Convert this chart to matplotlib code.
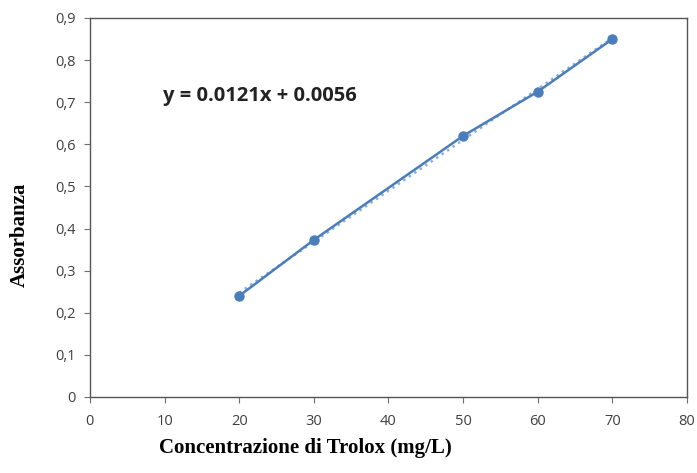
import numpy as np
import matplotlib.pyplot as plt

# Trolox calibration data
conc = [20, 30, 50, 60, 70]
absorb = [0.24, 0.373, 0.62, 0.725, 0.85]
slope = 0.0121
intercept = 0.0056
x_ticks = [0, 10, 20, 30, 40, 50, 60, 70, 80]
y_ticks = [0, 0.1, 0.2, 0.3, 0.4, 0.5, 0.6, 0.7, 0.8, 0.9]
y_tick_labels = ["0", "0,1", "0,2", "0,3", "0,4", "0,5", "0,6", "0,7", "0,8", "0,9"]

blue = "#4a7ebb"

fig = plt.figure(figsize=(6.97, 4.73), dpi=100)
ax = fig.add_axes([0.129, 0.1607, 0.8567, 0.8013])

# linear trendline, dotted
fit_x = np.array([conc[0], conc[-1]])
ax.plot(fit_x, slope * fit_x + intercept, linestyle=":", color="#8fb0da", linewidth=1.8)
ax.plot(conc, absorb, color=blue, linewidth=1.8, marker="o", markersize=6.5)

ax.set_xlim(0, 80)
ax.set_ylim(0, 0.9)
ax.set_xticks(x_ticks)
ax.set_yticks(y_ticks)
ax.set_yticklabels(y_tick_labels)
ax.tick_params(direction="out", length=4, color="#6e6e6e", labelcolor="#404040",
               labelsize=10.5)
ax.tick_params(axis="x", pad=8)
ax.tick_params(axis="y", pad=6)
for label in ax.get_xticklabels() + ax.get_yticklabels():
    label.set_family("Open Sans")
for side in ax.spines.values():
    side.set_color("#555555")
    side.set_linewidth(1.0)

ax.text(163 / 697, 1 - 96 / 473, "y = 0.0121x + 0.0056", transform=fig.transFigure,
        fontsize=14.5, fontweight="bold", family="Open Sans", color="#222222",
        va="center")

fig.text(305 / 697, 1 - 448 / 473, "Concentrazione di Trolox (mg/L)", ha="center",
         va="center", fontsize=15, fontweight="bold", family="Liberation Serif")
fig.text(20 / 697, 1 - 235 / 473, "Assorbanza", ha="center", va="center",
         rotation=90, fontsize=15, fontweight="bold", family="Liberation Serif")

fig.savefig("out.png", dpi=100)
